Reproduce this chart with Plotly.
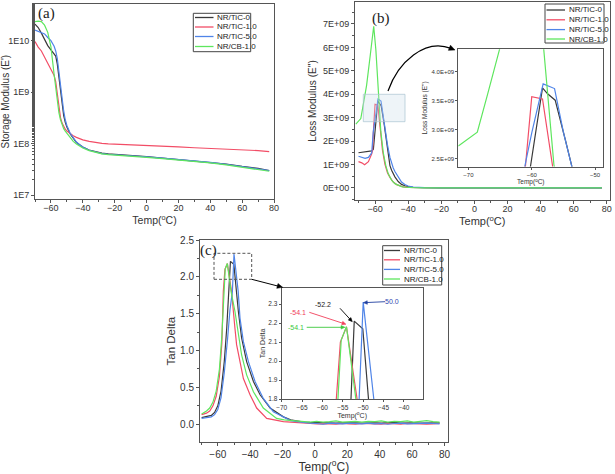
import math
import plotly.graph_objects as go

W, H = 615, 474

# ---------------- data ----------------
names = ["NR/TiC-0", "NR/TiC-1.0", "NR/TiC-5.0", "NR/CB-1.0"]
colors = ["#3a3a3a", "#f24d66", "#4f84e8", "#5ee65e"]

# (a) storage modulus E'
a_temp = [-70, -68, -66, -64, -62, -60, -58, -57, -56, -55, -54, -53, -52, -51, -50, -48, -46, -44, -42, -40,
          -36, -32, -28, -24, -20, -10, 0, 10, 20, 30, 40, 50, 60, 70, 77]
a_tic0 = [2.1e10, 1.8e10, 1.4e10, 1.05e10, 8.0e9, 6.6e9, 5.6e9, 5.0e9, 3.5e9, 1.9e9, 1.1e9, 5.5e8, 3.5e8, 2.6e8,
          2.1e8, 1.55e8, 1.25e8, 1.05e8, 9.5e7, 8.6e7, 7.5e7, 6.9e7, 6.5e7, 6.3e7, 6.2e7, 5.9e7, 5.6e7, 5.2e7,
          4.9e7, 4.6e7, 4.3e7, 4.0e7, 3.6e7, 3.3e7, 3.0e7]
a_tic1 = [9.6e9, 7.5e9, 6.3e9, 4.8e9, 3.6e9, 2.9e9, 2.1e9, 1.6e9, 9.0e8, 5.0e8, 3.2e8, 2.5e8, 2.1e8, 1.9e8,
          1.75e8, 1.55e8, 1.42e8, 1.32e8, 1.25e8, 1.18e8, 1.1e8, 1.04e8, 1.01e8, 9.9e7, 9.8e7, 9.5e7, 9.2e7,
          8.9e7, 8.6e7, 8.3e7, 8.1e7, 7.8e7, 7.5e7, 7.3e7, 7.0e7]
a_tic5 = [1.6e10, 1.5e10, 1.45e10, 1.35e10, 1.15e10, 1.0e10, 7.8e9, 6.3e9, 4.5e9, 2.5e9, 1.4e9, 7.0e8, 4.3e8,
          2.9e8, 2.25e8, 1.6e8, 1.28e8, 1.07e8, 9.5e7, 8.6e7, 7.4e7, 6.8e7, 6.4e7, 6.2e7, 6.1e7, 5.8e7, 5.5e7,
          5.2e7, 4.9e7, 4.6e7, 4.3e7, 3.95e7, 3.6e7, 3.3e7, 3.0e7]
a_cb1 = [2.35e10, 2.4e10, 2.35e10, 2.0e10, 1.45e10, 7.6e9, 2.2e9, 1.2e9, 6.0e8, 4.0e8, 2.9e8, 2.3e8, 1.95e8,
         1.75e8, 1.6e8, 1.3e8, 1.1e8, 9.8e7, 8.8e7, 8.2e7, 7.3e7, 6.7e7, 6.3e7, 6.1e7, 6.0e7, 5.7e7, 5.4e7,
         5.1e7, 4.8e7, 4.5e7, 4.2e7, 3.85e7, 3.5e7, 3.2e7, 2.9e7]

# (b) loss modulus E''
b_tic0_t = [-70, -68, -66, -64, -62, -61, -60.2, -59.5, -58.3, -57.5, -56.3, -54.7, -53.9, -52.5, -51, -50, -49,
            -48, -46, -44, -42, -40, -37, -34, -30, -20, 0, 20, 40, 60, 77]
b_tic0 = [1.50e9, 1.52e9, 1.53e9, 1.55e9, 1.58e9, 1.65e9, 2.37e9, 2.87e9, 3.72e9, 3.62e9, 3.51e9, 2.83e9,
          2.37e9, 1.65e9, 0.95e9, 0.75e9, 0.6e9, 0.47e9, 0.27e9, 0.15e9, 0.09e9, 0.05e9, 0.025e9, 0.013e9,
          0.007e9, 0.003e9, 0.001e9, 0.0, 0.0, 0.0, 0.0]
b_tic1_t = [-70, -68, -66.3, -64, -62, -61.5, -61, -60, -58.3, -56.7, -55.5, -54, -52.5, -51, -49, -47, -45, -43,
            -40, -35, -30, -20, 0, 20, 40, 60, 77]
b_tic1 = [1.12e9, 1.07e9, 0.99e9, 1.12e9, 1.45e9, 1.6e9, 2.37e9, 3.57e9, 3.53e9, 2.37e9, 1.6e9, 1.0e9, 0.65e9,
          0.45e9, 0.25e9, 0.14e9, 0.08e9, 0.045e9, 0.02e9, 0.008e9, 0.004e9, 0.002e9, 0.001e9, 0.0, 0.0, 0.0, 0.0]
b_tic5_t = [-70, -68, -66, -64, -62, -61.1, -60, -58.2, -56.4, -55, -53.9, -52.5, -51, -50, -49, -48, -46, -44,
            -42, -40, -37, -34, -30, -20, 0, 20, 40, 60, 77]
b_tic5 = [1.35e9, 1.3e9, 1.26e9, 1.3e9, 1.5e9, 2.37e9, 2.95e9, 3.79e9, 3.71e9, 2.96e9, 2.37e9, 1.85e9, 1.3e9,
          1.05e9, 0.85e9, 0.7e9, 0.45e9, 0.25e9, 0.14e9, 0.08e9, 0.035e9, 0.018e9, 0.008e9, 0.003e9, 0.001e9,
          0.0, 0.0, 0.0, 0.0]
b_cb1_t = [-71.6, -68.6, -67, -65.1, -63, -60.8, -59.5, -58.2, -56.5, -55, -53.5, -52, -50, -48, -46, -44, -42,
           -40, -36, -30, -20, 0, 20, 40, 60, 77]
b_cb1 = [2.72e9, 2.96e9, 3.6e9, 4.38e9, 5.6e9, 6.9e9, 5.9e9, 4.5e9, 2.4e9, 1.5e9, 0.95e9, 0.6e9, 0.33e9, 0.18e9,
         0.1e9, 0.055e9, 0.03e9, 0.015e9, 0.006e9, 0.003e9, 0.001e9, 0.0, 0.0, 0.0, 0.0, 0.0]

# (c) tan delta
c_tic0_t = [-70, -67, -64, -62, -60, -58, -56, -54.5, -53, -52.2, -50.1, -48.7, -47.3, -45.3, -42.2, -38, -33.9,
            -27.7, -19.5, -15, -11, -7, -3, 1, 5, 9, 13, 17, 21, 25, 29, 33, 37, 41, 45, 49, 53, 57, 61, 65, 69,
            73, 77]
c_tic0 = [0.09, 0.10, 0.12, 0.16, 0.25, 0.45, 0.85, 1.30, 1.80, 2.21, 2.17, 1.80, 1.53, 1.17, 0.85, 0.58, 0.40,
          0.22, 0.10, 0.06, 0.04, 0.03, 0.025, 0.02, 0.025, 0.02, 0.015, 0.02, 0.025, 0.02, 0.015, 0.02, 0.02,
          0.015, 0.02, 0.025, 0.015, 0.02, 0.02, 0.015, 0.02, 0.025, 0.02]
c_tic1_t = [-70, -67, -65, -63, -61, -59, -57.5, -56.6, -55.6, -54.1, -51.5, -50.5, -49.4, -48.4, -46.3, -44.2,
            -40.1, -36, -29.8, -24, -19.5, -15, -11, -7, -3, 1, 5, 9, 13, 17, 21, 25, 29, 33, 37, 41, 45, 49, 53,
            57, 61, 65, 69, 73, 77]
c_tic1 = [0.13, 0.15, 0.18, 0.25, 0.38, 0.65, 1.10, 1.80, 2.10, 2.18, 1.80, 1.50, 1.30, 1.08, 0.85, 0.62, 0.40,
          0.22, 0.08, 0.05, 0.035, 0.03, 0.02, 0.015, 0.01, 0.005, 0.01, 0.005, 0.0, 0.01, 0.005, 0.0, 0.01,
          0.005, 0.01, 0.0, 0.01, 0.005, 0.0, 0.01, 0.005, 0.01, 0.0, 0.005, 0.01]
c_tic5_t = [-70, -67, -64, -62, -60, -58, -56, -54, -52.5, -51, -50, -47.4, -46.3, -44.2, -41.1, -37, -31.9,
            -25.7, -19.5, -15, -11, -7, -3, 1, 5, 9, 13, 17, 21, 25, 29, 33, 37, 41, 45, 49, 53, 57, 61, 65, 69,
            73, 77]
c_tic5 = [0.08, 0.085, 0.10, 0.13, 0.20, 0.36, 0.70, 1.15, 1.55, 1.80, 2.31, 1.80, 1.44, 1.12, 0.85, 0.58, 0.35,
          0.17, 0.10, 0.05, 0.035, 0.02, 0.015, 0.01, 0.0, 0.015, 0.01, 0.005, 0.015, 0.01, 0.005, 0.015, 0.005,
          0.01, 0.0, 0.01, 0.015, 0.005, 0.01, 0.005, 0.015, 0.01, 0.005]
c_cb1_t = [-70, -67, -65, -63, -61, -59, -57.5, -56.2, -55.4, -54.1, -51.8, -49.4, -47.3, -45.3, -42.2, -38,
           -31.9, -23.7, -19, -15, -11, -7, -3, 1, 5, 9, 13, 17, 21, 25, 29, 33, 37, 41, 45, 49, 53, 57, 61, 65,
           69, 73, 77]
c_cb1 = [0.14, 0.18, 0.22, 0.30, 0.45, 0.75, 1.20, 1.80, 2.11, 2.18, 1.80, 1.53, 1.21, 0.94, 0.67, 0.44, 0.22,
         0.08, 0.06, 0.05, 0.04, 0.035, 0.03, 0.04, 0.03, 0.035, 0.045, 0.03, 0.035, 0.04, 0.03, 0.04, 0.035,
         0.045, 0.03, 0.04, 0.035, 0.045, 0.03, 0.04, 0.05, 0.035, 0.03]

# inset peak labels (c)
peak_labels = ["-52.2", "-54.1", "-54.1", "50.0"]

# tick labels
a_ytickvals = [1e7, 1e8, 1e9, 1e10]
a_yticktext = ["1E7", "1E8", "1E9", "1E10"]
b_ytickvals = [0, 1e9, 2e9, 3e9, 4e9, 5e9, 6e9, 7e9]
b_yticktext = ["0E+00", "1E+09", "2E+09", "3E+09", "4E+09", "5E+09", "6E+09", "7E+09"]
bi_ytickvals = [2.5e9, 3.0e9, 3.5e9, 4.0e9]
bi_yticktext = ["2.5E+09", "3.0E+09", "3.5E+09", "4.0E+09"]

# ---------------- helpers ----------------
FONT = "Liberation Sans, Arial, sans-serif"
SERIF = "Liberation Serif, Times New Roman, serif"
TEMP = "Temp(<sup>o</sup>C)"


def X(px):
    return px / W


def Y(py):
    return 1 - py / H


def xd(l, r):
    return [l / W, r / W]


def yd(t, b):
    return [1 - b / H, 1 - t / H]


def ax_style(size=9, minor_dtick=None, title=None, tsize=10, standoff=2, **kw):
    d = dict(showline=True, linecolor="#555", linewidth=1, mirror=True, ticks="outside", ticklen=3,
             tickwidth=1, tickcolor="#555", showgrid=False, zeroline=False, automargin=False,
             tickfont=dict(size=size, color="#333", family=FONT))
    if minor_dtick is not None:
        d["minor"] = dict(ticks="outside", ticklen=2, tickcolor="#555", dtick=minor_dtick, showgrid=False)
    if title is not None:
        d["title"] = dict(text=title, font=dict(size=tsize, color="#333", family=FONT), standoff=standoff)
    d.update(kw)
    return d


fig = go.Figure()

a_series = [a_tic0, a_tic1, a_tic5, a_cb1]
b_series = [(b_tic0_t, b_tic0), (b_tic1_t, b_tic1), (b_tic5_t, b_tic5), (b_cb1_t, b_cb1)]
c_series = [(c_tic0_t, c_tic0), (c_tic1_t, c_tic1), (c_tic5_t, c_tic5), (c_cb1_t, c_cb1)]

for i in range(4):
    fig.add_trace(go.Scatter(x=a_temp, y=a_series[i], mode="lines", name=names[i],
                             line=dict(color=colors[i], width=1.2), xaxis="x", yaxis="y"))
for i in range(4):
    fig.add_trace(go.Scatter(x=b_series[i][0], y=b_series[i][1], mode="lines", name=names[i],
                             line=dict(color=colors[i], width=1.2), xaxis="x2", yaxis="y2"))
for i in range(4):
    fig.add_trace(go.Scatter(x=b_series[i][0], y=b_series[i][1], mode="lines", name=names[i],
                             line=dict(color=colors[i], width=1.2), xaxis="x3", yaxis="y3"))
for i in range(4):
    fig.add_trace(go.Scatter(x=c_series[i][0], y=c_series[i][1], mode="lines", name=names[i],
                             line=dict(color=colors[i], width=1.2), xaxis="x4", yaxis="y4"))
for i in range(4):
    fig.add_trace(go.Scatter(x=c_series[i][0], y=c_series[i][1], mode="lines", name=names[i],
                             line=dict(color=colors[i], width=1.2), xaxis="x5", yaxis="y5"))

xt = [-60, -40, -20, 0, 20, 40, 60, 80]
layout = dict(
    width=W, height=H, margin=dict(l=0, r=0, t=0, b=0), showlegend=False,
    paper_bgcolor="white", plot_bgcolor="white", font=dict(family=FONT, color="#333"),
    xaxis=ax_style(domain=xd(35, 274), range=[-70, 80], tickvals=xt, anchor="y", minor_dtick=10,
                   ticklabelstandoff=-3, title=TEMP, tsize=10.5, standoff=2),
    yaxis=ax_style(domain=yd(4, 199.3), type="log", range=[6.917, 10.712], tickvals=a_ytickvals,
                   ticktext=a_yticktext, anchor="x", title="Storage Modulus (E')", tsize=10, standoff=1,
                   minor=dict(ticks="outside", ticklen=2, tickcolor="#555", showgrid=False)),
    xaxis2=ax_style(domain=xd(355, 609.5), range=[-72.1, 81.6], tickvals=xt, anchor="y2", minor_dtick=10,
                    ticklabelstandoff=-3, title=TEMP, tsize=11, standoff=4),
    yaxis2=ax_style(domain=yd(2, 200), range=[-0.518e9, 7.937e9], tickvals=b_ytickvals,
                    ticktext=b_yticktext, anchor="x2", minor_dtick=0.5e9, title="Loss Modulus (E'')",
                    tsize=10, standoff=4),
    xaxis3=ax_style(size=6, domain=xd(458.3, 603.3), range=[-71.6, -48.7], tickvals=[-70, -60, -50],
                    anchor="y3", ticklen=2, title=TEMP, tsize=6.5, standoff=2),
    yaxis3=ax_style(size=6, domain=yd(49.3, 166.5), range=[2.37e9, 4.385e9], tickvals=bi_ytickvals,
                    ticktext=bi_yticktext, anchor="x3", ticklen=2, title="Loss Modulus (E'')", tsize=6.5,
                    standoff=3),
    xaxis4=ax_style(size=10, domain=xd(200, 447.7), range=[-71, 82], tickvals=xt, anchor="y4",
                    minor_dtick=10, title=TEMP, tsize=12, standoff=1),
    yaxis4=ax_style(size=10, domain=yd(240, 442.3), range=[-0.245, 2.5], tickvals=[0, 0.5, 1, 1.5, 2, 2.5],
                    tickformat=".1f", anchor="x4", minor_dtick=0.25, title="Tan Delta", tsize=11.5,
                    standoff=2),
    xaxis5=ax_style(size=6.5, domain=xd(281.7, 422.7), range=[-70, -35.4],
                    tickvals=[-70, -65, -60, -55, -50, -45, -40], anchor="y5", ticklen=2, title=TEMP,
                    tsize=7, standoff=1),
    yaxis5=ax_style(size=6.5, domain=yd(287.7, 399), range=[1.8, 2.386],
                    tickvals=[1.8, 1.9, 2.0, 2.1, 2.2, 2.3], tickformat=".1f", anchor="x5", ticklen=2,
                    title="Tan Delta", tsize=7, standoff=1),
)
fig.update_layout(**layout)

shapes = []
annotations = []


def text(px, py, s, size=10, color="#333", angle=0, family=FONT):
    annotations.append(dict(x=X(px), y=Y(py), xref="paper", yref="paper", text=s, showarrow=False,
                            textangle=angle, font=dict(size=size, color=color, family=family),
                            xanchor="center", yanchor="middle"))


def head(x1, y1, ux, uy, color, L=5.0, w=2.3):
    n = math.hypot(ux, uy)
    ux, uy = ux / n, uy / n
    bx, by = x1 - L * ux, y1 - L * uy
    c1 = (bx - w * uy, by + w * ux)
    c2 = (bx + w * uy, by - w * ux)
    path = "M {} {} L {} {} L {} {} Z".format(X(x1), Y(y1), X(c1[0]), Y(c1[1]), X(c2[0]), Y(c2[1]))
    shapes.append(dict(type="path", xref="paper", yref="paper", path=path, fillcolor=color,
                       line=dict(color=color, width=0.5), layer="above"))


def arrow(x0, y0, x1, y1, color="black", width=1, L=5.0, w=2.3):
    n = math.hypot(x1 - x0, y1 - y0)
    ux, uy = (x1 - x0) / n, (y1 - y0) / n
    shapes.append(dict(type="line", xref="paper", yref="paper", x0=X(x0), y0=Y(y0),
                       x1=X(x1 - (L - 1) * ux), y1=Y(y1 - (L - 1) * uy),
                       line=dict(color=color, width=width), layer="above"))
    head(x1, y1, ux, uy, color, L, w)


def legend(x0, y0, x1, y1, rows, line_l, line_r, text_x, size=8):
    shapes.append(dict(type="rect", xref="paper", yref="paper", x0=X(x0), x1=X(x1), y0=Y(y1), y1=Y(y0),
                       line=dict(color="#444", width=1), fillcolor="white", layer="above"))
    for i, ry in enumerate(rows):
        shapes.append(dict(type="line", xref="paper", yref="paper", x0=X(line_l), x1=X(line_r), y0=Y(ry),
                           y1=Y(ry), line=dict(color=colors[i], width=1.3), layer="above"))
        annotations.append(dict(x=X(text_x), y=Y(ry), xref="paper", yref="paper", text=names[i],
                                showarrow=False, xanchor="left", yanchor="middle",
                                font=dict(size=size, color="#222", family=FONT)))


# panel labels
text(47, 14, "(a)", size=15, color="#222", family=SERIF)
text(381, 19, "(b)", size=15, color="#222", family=SERIF)
text(208, 250, "(c)", size=15, color="#222", family=SERIF)

# legends
legend(193.3, 13.3, 250.7, 51.7, [17.5, 27, 36.5, 46.5], 195, 213.5, 215)
legend(545, 4, 604, 43, [10, 19.8, 29.6, 39], 546.5, 565, 566.5)
legend(382.7, 245.7, 441.7, 285, [250.5, 259.8, 269.4, 279], 384, 400, 401.5)

# (b) highlight box and curved arrow
shapes.append(dict(type="rect", xref="paper", yref="paper", x0=X(363.3), x1=X(405), y0=Y(121.7), y1=Y(94.3),
                   line=dict(color="rgba(170,195,210,0.7)", width=1), fillcolor="rgba(200,220,232,0.3)",
                   layer="above"))
p = [(388, 91), (398, 62), (425, 38), (451, 48.4)]
path = "M {} {} C {} {}, {} {}, {} {}".format(*[v for pt in p for v in (X(pt[0]), Y(pt[1]))])
shapes.append(dict(type="path", xref="paper", yref="paper", path=path, line=dict(color="black", width=1.2),
                   layer="above"))
head(455, 50, 30, 12, "black", L=6, w=2.8)

# (c) dashed box + arrow
shapes.append(dict(type="rect", xref="paper", yref="paper", x0=X(214), x1=X(251.7), y0=Y(279.3), y1=Y(253.3),
                   line=dict(color="#555", width=1, dash="3px,2px"), layer="above"))
arrow(251.7, 279.3, 282.7, 287.3, width=1, L=5.5, w=2.5)

# (c) inset peak annotations
text(323.3, 304, peak_labels[0], size=7, color="#222")
text(298.3, 312.3, peak_labels[1], size=7, color="#f0405a")
text(296.3, 327.3, peak_labels[2], size=7, color="#3cc83c")
text(392, 301, peak_labels[3], size=7, color="#3048b0")
arrow(340, 308.3, 352.3, 321.7, color="black", width=0.9, L=4, w=1.8)
arrow(309.3, 312.3, 346, 324.3, color="#f0405a", width=0.9, L=4, w=1.8)
arrow(306.7, 327.3, 345, 327.3, color="#3cc83c", width=0.9, L=4, w=1.8)
arrow(385, 301.7, 363.3, 302.7, color="#2040a0", width=0.9, L=4, w=1.8)

fig.update_layout(shapes=shapes, annotations=annotations)
fig.write_html("out.html", config={"displayModeBar": False},
               post_script="document.body.style.margin='0px';document.body.style.overflow='hidden';")
